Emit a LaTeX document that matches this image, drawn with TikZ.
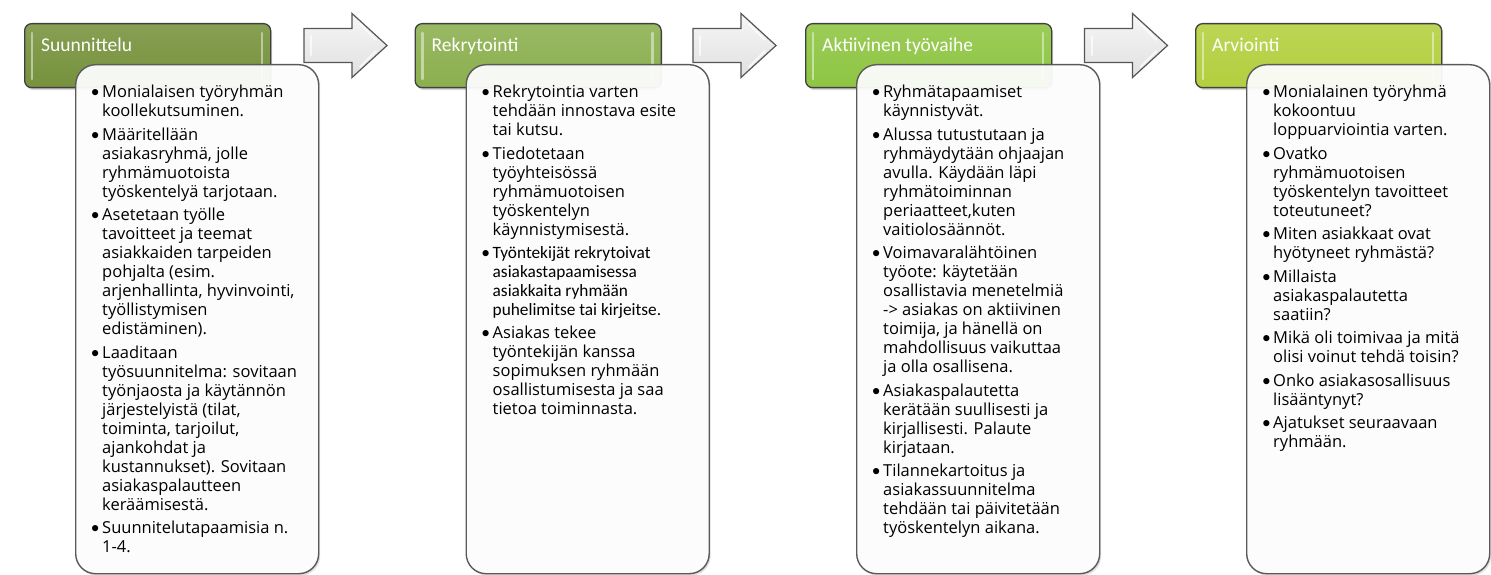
\documentclass[tikz,border=0pt]{standalone}
\usepackage{fontspec}
\setmainfont{Open Sans}
\newfontfamily\calfont{Carlito}
\usetikzlibrary{shadows}
\definecolor{hcA}{HTML}{76923C}
\definecolor{hcB}{HTML}{8BAF4E}
\definecolor{hcC}{HTML}{8EC542}
\definecolor{hcD}{HTML}{B3CF3E}
\definecolor{hborder}{HTML}{404040}
\definecolor{bborder}{HTML}{5A5A5A}
\definecolor{aborder}{HTML}{555555}
\newcommand\bodyfont{\fontsize{16.5}{19}\selectfont}
\newcommand\hdrfont{\calfont\fontsize{19.5}{22}\selectfont}
\newcommand\bu{\llap{{\calfont\fontsize{17.5}{19}\selectfont •}\hspace{2.5pt}}}
\newcommand\cl[1]{{\calfont\fontsize{17.3}{19}\selectfont #1}}
\tikzset{
  hdrbox/.style={draw=hborder, line width=1.3pt, rounded corners=7pt,
    minimum width=246pt, minimum height=64pt, anchor=north west, inner sep=0pt,
    drop shadow={shadow xshift=1.5pt, shadow yshift=-2.5pt, opacity=0.3}},
  txtbox/.style={draw=bborder, line width=1.4pt, rounded corners=20pt,
    fill=white, fill opacity=0.93,
    minimum width=243pt, minimum height=509pt, anchor=north west, inner sep=0pt,
    drop shadow={shadow xshift=1.5pt, shadow yshift=-2pt, opacity=0.25}},
  hdrtext/.style={anchor=base west, text=white, font=\hdrfont, inner sep=0pt},
  bodytext/.style={anchor=north west, align=left, font=\bodyfont, inner sep=0pt, text=black},
  blockarrow/.style={draw=aborder, line width=1.2pt, top color=gray!7, bottom color=gray!24},
  glint/.style={line width=2.6pt, line cap=round, opacity=0.75},
}
\newcommand\header[4]{% #1 x0, #2 colour, #3 title, #4 name
  \node[hdrbox, top color=#2!88!white, bottom color=#2] (h#4) at (#1,23) {};
  \draw[glint, draw=#2!35!white] ({#1+8},33) -- ({#1+8},79);
  \draw[glint, draw=#2!35!white] ({#1+238},33) -- ({#1+238},79);
  \node[hdrtext] (ht#4) at ({#1+17},51.5) {#3};
}
\newcommand\blockarrow[2]{% #1 x0, #2 name
  \path[blockarrow] ({#1+280},28.5) -- ({#1+328},28.5) -- ({#1+328},13.5)
     -- ({#1+363},45.5) -- ({#1+328},77.5) -- ({#1+328},62.5) -- ({#1+280},62.5) -- cycle;
  \draw[line width=2pt, white, opacity=0.7, line cap=round] ({#1+287},36) -- ({#1+287},55);
  \draw[line width=2pt, white, opacity=0.7, line cap=round] ({#1+336},24) -- ({#1+352},40);
  \draw[line width=2pt, white, opacity=0.7, line cap=round] ({#1+336},67) -- ({#1+352},51);
  \coordinate (a#2) at ({#1+363},45.5);
}
\begin{document}
\begin{tikzpicture}[x=1pt,y=-1pt]
\useasboundingbox (0,0) rectangle (1491,575);
\fill[white] (0,0) rectangle (1491,575);

% ---------- column 1
\header{24}{hcA}{Suunnittelu}{1}
\blockarrow{24}{1}
\node[txtbox] (b1) at (75,64) {};
\node[bodytext] (t1) at (102,84) {\strut\bu Monialaisen työryhmän\\
koollekutsuminen.\\[4.5pt]
\bu Määritellään\\
asiakasryhmä, jolle\\
ryhmämuotoista\\
työskentelyä tarjotaan.\\[4.5pt]
\bu Asetetaan työlle\\
tavoitteet ja teemat\\
asiakkaiden tarpeiden\\
pohjalta (esim.\\
arjenhallinta, hyvinvointi,\\
työllistymisen\\
edistäminen).\\[4.5pt]
\bu Laaditaan\\
työsuunnitelma: sovitaan\\
työnjaosta ja käytännön\\
järjestelyistä (tilat,\\
toiminta, tarjoilut,\\
ajankohdat ja\\
kustannukset). Sovitaan\\
asiakaspalautteen\\
keräämisestä.\\[4.5pt]
\bu Suunnitelutapaamisia n.\\
1-4.};

% ---------- column 2
\header{414.5}{hcB}{Rekrytointi}{2}
\blockarrow{413}{2}
\node[txtbox] (b2) at (465.5,64) {};
\node[bodytext] (t2) at (492.5,84) {\strut\bu Rekrytointia varten\\
tehdään innostava esite\\
tai kutsu.\\[4.5pt]
\bu Tiedotetaan\\
työyhteisössä\\
ryhmämuotoisen\\
työskentelyn\\
käynnistymisestä.\\[4.5pt]
\cl{\bu Työntekijät rekrytoivat}\\
\cl{asiakastapaamisessa}\\
\cl{asiakkaita ryhmään}\\
\cl{puhelimitse tai kirjeitse.}\\[3.5pt]
\bu Asiakas tekee\\
työntekijän kanssa\\
sopimuksen ryhmään\\
osallistumisesta ja saa\\
tietoa toiminnasta.};

% ---------- column 3
\header{805}{hcC}{Aktiivinen työvaihe}{3}
\blockarrow{804.5}{3}
\node[txtbox] (b3) at (856,64) {};
\node[bodytext] (t3) at (883,84) {\strut\bu Ryhmätapaamiset\\
käynnistyvät.\\[4.5pt]
\bu Alussa tutustutaan ja\\
ryhmäydytään ohjaajan\\
avulla. Käydään läpi\\
ryhmätoiminnan\\
periaatteet,kuten\\
vaitiolosäännöt.\\[4.5pt]
\bu Voimavaralähtöinen\\
työote: käytetään\\
osallistavia menetelmiä\\
-> asiakas on aktiivinen\\
toimija, ja hänellä on\\
mahdollisuus vaikuttaa\\
ja olla osallisena.\\[4.5pt]
\bu Asiakaspalautetta\\
kerätään suullisesti ja\\
kirjallisesti. Palaute\\
kirjataan.\\[4.5pt]
\bu Tilannekartoitus ja\\
asiakassuunnitelma\\
tehdään tai päivitetään\\
työskentelyn aikana.};

% ---------- column 4
\header{1195}{hcD}{Arviointi}{4}
\node[txtbox] (b4) at (1246,64) {};
\node[bodytext] (t4) at (1273,84) {\strut\bu Monialainen työryhmä\\
kokoontuu\\
loppuarviointia varten.\\[4.5pt]
\bu Ovatko\\
ryhmämuotoisen\\
työskentelyn tavoitteet\\
toteutuneet?\\[4.5pt]
\bu Miten asiakkaat ovat\\
hyötyneet ryhmästä?\\[4.5pt]
\bu Millaista\\
asiakaspalautetta\\
saatiin?\\[4.5pt]
\bu Mikä oli toimivaa ja mitä\\
olisi voinut tehdä toisin?\\[4.5pt]
\bu Onko asiakasosallisuus\\
lisääntynyt?\\[4.5pt]
\bu Ajatukset seuraavaan\\
ryhmään.};
\end{tikzpicture}
\end{document}
